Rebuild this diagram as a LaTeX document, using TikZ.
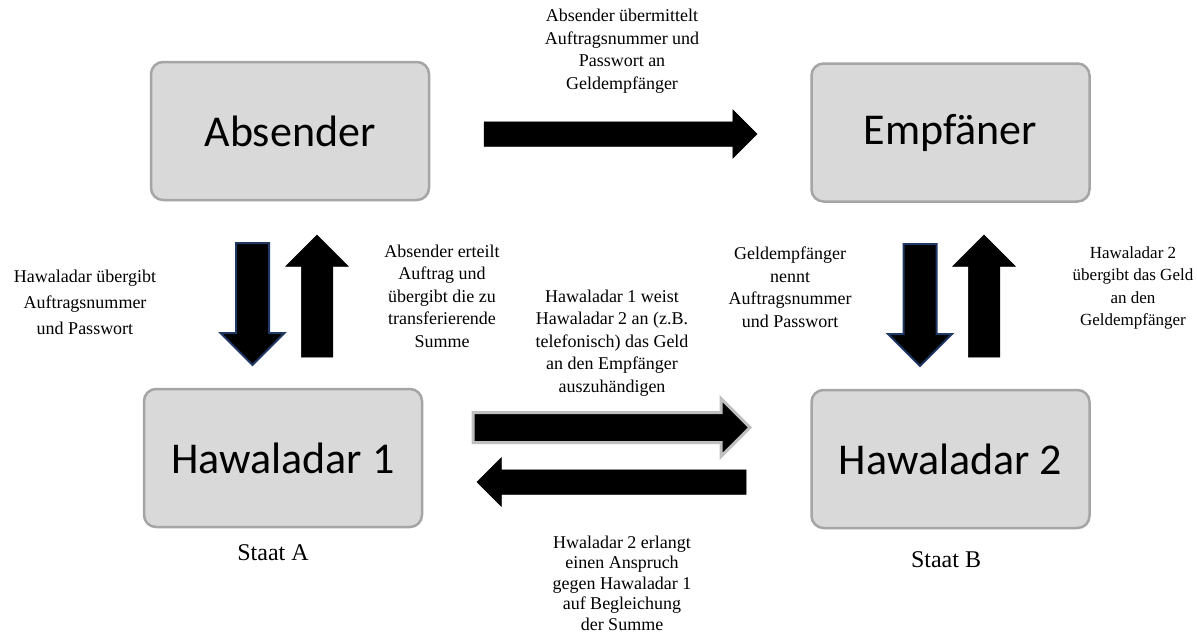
\documentclass[tikz,border=0pt]{standalone}
\usepackage{fontspec}
\setmainfont{Liberation Serif}
\newfontfamily\boxfont{Carlito}
\usetikzlibrary{shapes.arrows}
\definecolor{boxfill}{HTML}{D9D9D9}
\definecolor{boxline}{HTML}{A5A5A5}
\definecolor{navyline}{HTML}{1F3864}
\definecolor{greyline}{HTML}{BFBFBF}
\tikzset{
  party/.style={draw=boxline, line width=2.5pt, fill=boxfill, rounded corners=12pt,
    minimum width=278pt, minimum height=138pt, font=\boxfont\fontsize{44}{50}\selectfont},
  note/.style={align=center, font=\fontsize{18}{22.5}\selectfont, inner sep=0pt},
  blockarrow/.style={single arrow, fill=black, draw=black, line width=0.5pt,
    inner xsep=0pt, outer sep=0pt, minimum width=0pt, anchor=tail},
  vertarrow/.style={blockarrow, inner ysep=15.5pt, single arrow head extend=15.5pt, minimum height=122pt},
  horiarrow/.style={blockarrow, inner ysep=12pt, single arrow head extend=12pt}
}
\begin{document}
\begin{tikzpicture}[x=1pt, y=-1pt]
			\useasboundingbox (0,0) rectangle (1197,635);
			
			%%%%% boxes %%%%%
			\node[party] (absender) at (290,131) {Absender};
			\node[party] (empf) at (950.5,132.5) {Empfäner};
			\node[party] (hawA) at (283,458) {Hawaladar 1};
			\node[party] (hawB) at (950.5,459) {Hawaladar 2};
			
			%%%%% arrows %%%%%
			\node[horiarrow, minimum height=273pt] (arrTop) at (484,134) {};
			
			\node[vertarrow, rotate=-90, draw=navyline, line width=2pt] (arrDownA) at (252.5,243) {};
			\node[vertarrow, rotate=90] (arrUpA) at (317,357) {};
			\node[vertarrow, rotate=-90, draw=navyline, line width=2pt] (arrDownB) at (920,244) {};
			\node[vertarrow, rotate=90] (arrUpB) at (984,357) {};
			
			\node[horiarrow, inner ysep=13.5pt, single arrow head extend=14pt, minimum height=277pt,
			  draw=greyline, line width=3pt] (arrAB) at (473,427.5) {};
			\node[horiarrow, rotate=180, minimum height=269pt] (arrBA) at (746,482) {};
			
			%%%%% labels %%%%%
			\node[note] (txtTop) at (622,51) {Absender übermittelt\\Auftragsnummer und\\Passwort an\\Geldempfänger};
			\node[note, font=\fontsize{18}{26}\selectfont] (txtLeft) at (85,302) {Hawaladar übergibt\\Auftragsnummer\\und Passwort};
			\node[note] (txtAuftrag) at (442,296) {Absender erteilt\\Auftrag und\\übergibt die zu\\transferierende\\Summe};
			\node[note] (txtMid) at (612,343) {Hawaladar 1 weist\\Hawaladar 2 an (z.B.\\telefonisch) das Geld\\an den Empfänger\\auszuhändigen};
			\node[note] (txtNennt) at (790,287) {Geldempfänger\\nennt\\Auftragsnummer\\und Passwort};
			\node[note, font=\fontsize{17}{22.5}\selectfont] (txtRight) at (1133,288) {Hawaladar 2\\übergibt das Geld\\an den\\Geldempfänger};
			\node[note, font=\fontsize{18}{20.5}\selectfont] (txtBottom) at (622,583) {Hwaladar 2 erlangt\\einen Anspruch\\gegen Hawaladar 1\\auf Begleichung\\der Summe};
			
			\node[note, font=\fontsize{24}{28}\selectfont] (staatA) at (273,553) {Staat A};
			\node[note, font=\fontsize{24}{28}\selectfont] (staatB) at (946,560) {Staat B};
			
			%%%%% END %%%%%
		\end{tikzpicture}
\end{document}
